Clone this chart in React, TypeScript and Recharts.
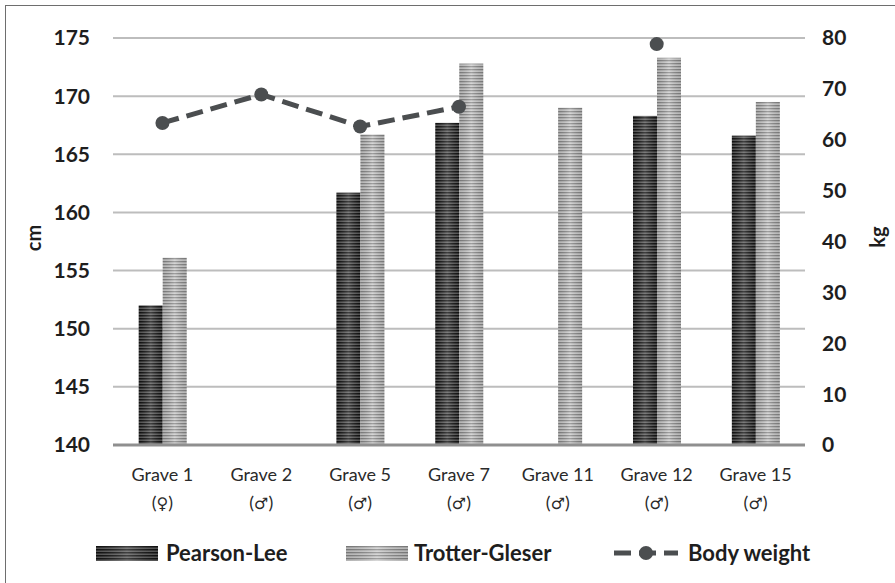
import React from 'react';
import { ComposedChart, Bar, Line, XAxis, YAxis, CartesianGrid, Label } from 'recharts';

const graves = ['Grave 1', 'Grave 2', 'Grave 5', 'Grave 7', 'Grave 11', 'Grave 12', 'Grave 15'];
const sexes = ['♀', '♂', '♂', '♂', '♂', '♂', '♂'];
const pearsonLee: (number | null)[] = [152.0, null, 161.7, 167.7, null, 168.3, 166.6];
const trotterGleser: (number | null)[] = [156.1, null, 166.7, 172.8, 169.0, 173.3, 169.5];
const bodyWeight: (number | null)[] = [63.3, 68.9, 62.6, 66.5, null, 78.8, null];
const cmTicks = [140, 145, 150, 155, 160, 165, 170, 175];
const kgTicks = [0, 10, 20, 30, 40, 50, 60, 70, 80];

const data = graves.map((g, i) => ({
  name: g,
  sex: sexes[i],
  pl: pearsonLee[i],
  tg: trotterGleser[i],
  bw: bodyWeight[i],
}));

const FONT = 'Lato, "Open Sans", sans-serif';
const LINE_COLOR = '#4b4e50';

const Defs = ({ suffix }: { suffix: string }) => (
  <defs>
    <pattern id={`darkStripe${suffix}`} width="6" height="3" patternUnits="userSpaceOnUse">
      <rect width="6" height="3" fill="#5c5c5c" />
      <rect width="6" height="1.5" fill="#111" />
    </pattern>
    <pattern id={`lightStripe${suffix}`} width="6" height="3" patternUnits="userSpaceOnUse">
      <rect width="6" height="3" fill="#cdcdcd" />
      <rect width="6" height="1.3" fill="#878787" />
    </pattern>
    <linearGradient id={`shine${suffix}`} x1="0" y1="0" x2="1" y2="0">
      <stop offset="0" stopColor="#000" stopOpacity="0.12" />
      <stop offset="0.5" stopColor="#fff" stopOpacity="0.2" />
      <stop offset="1" stopColor="#000" stopOpacity="0.12" />
    </linearGradient>
  </defs>
);

const makeShape = (patternId: string) => (props: any) => {
  const { x, y, width, height } = props;
  if (height == null || height <= 0 || width <= 0) return <g />;
  return (
    <g>
      <rect x={x} y={y} width={width} height={height} fill={`url(#${patternId})`} />
      <rect x={x} y={y} width={width} height={height} fill="url(#shineC)" />
    </g>
  );
};

const DarkShape = makeShape('darkStripeC');
const LightShape = makeShape('lightStripeC');

const XTick = (props: any) => {
  const { x, y, payload, index } = props;
  return (
    <g>
      <text x={x} y={y} textAnchor="middle" fontFamily={FONT} fontSize={18} fill="#2a2a2a">
        <tspan x={x} dy={36}>{payload.value}</tspan>
        <tspan x={x} dy={28}>(<tspan fontFamily='"DejaVu Sans", sans-serif' fontSize={16}>{sexes[index]}</tspan>)</tspan>
      </text>
    </g>
  );
};

const legendText: React.CSSProperties = {
  position: 'absolute',
  top: 538,
  fontFamily: FONT,
  fontWeight: 700,
  fontSize: 22,
  lineHeight: '30px',
  color: '#1e1e1e',
  whiteSpace: 'nowrap',
};

const Swatch = ({ left, kind }: { left: number; kind: 'dark' | 'light' }) => (
  <svg style={{ position: 'absolute', left, top: 546 }} width={62} height={15}>
    <Defs suffix={`L${kind}`} />
    <rect x={0} y={0} width={62} height={15} fill={`url(#${kind}StripeL${kind})`} />
    <rect x={0} y={0} width={62} height={15} fill={`url(#shineL${kind})`} />
  </svg>
);

export default function App() {
  return (
    <div style={{ position: 'absolute', left: 0, top: 0, width: 895, height: 583, background: '#fff' }}>
      <div style={{ position: 'absolute', left: 5, top: 5, width: 895, height: 583, borderTop: '1.5px solid #6e6e6e', borderLeft: '1.5px solid #6e6e6e' }} />
      <div style={{ position: 'absolute', left: 0, top: 0 }}>
        <ComposedChart
          width={895}
          height={583}
          data={data}
          margin={{ top: 38, right: 0, bottom: 0, left: 0 }}
          barCategoryGap="26%"
          barGap={0}
        >
          <Defs suffix="C" />
          <CartesianGrid vertical={false} stroke="#bdbdbd" strokeWidth={2} yAxisId="cm" />
          <XAxis
            dataKey="name"
            height={138}
            tickLine={false}
            tickSize={0}
            tickMargin={0}
            axisLine={{ stroke: '#8f8f8f', strokeWidth: 3 }}
            tick={<XTick />}
            interval={0}
          />
          <YAxis
            yAxisId="cm"
            orientation="left"
            width={113}
            domain={[140, 175]}
            ticks={cmTicks}
            axisLine={false}
            tickLine={false}
            tickSize={0}
            tickMargin={23}
            tick={{ fontFamily: FONT, fontWeight: 700, fontSize: 21, fill: '#1e1e1e' }}
          >
            <Label
              content={() => (
                <text x={33} y={238} transform="rotate(-90 33 238)" textAnchor="middle" dominantBaseline="central" fontFamily={FONT} fontWeight={700} fontSize={20} fill="#1e1e1e">cm</text>
              )}
            />
          </YAxis>
          <YAxis
            yAxisId="kg"
            orientation="right"
            width={90}
            domain={[0, 80]}
            ticks={kgTicks}
            axisLine={false}
            tickLine={false}
            tickSize={0}
            tickMargin={17}
            tick={{ fontFamily: FONT, fontWeight: 700, fontSize: 21, fill: '#1e1e1e' }}
          >
            <Label
              content={() => (
                <text x={877} y={237} transform="rotate(-90 877 237)" textAnchor="middle" dominantBaseline="central" fontFamily={FONT} fontWeight={700} fontSize={20} fill="#1e1e1e">kg</text>
              )}
            />
          </YAxis>
          <Bar yAxisId="cm" dataKey="pl" name="Pearson-Lee" shape={<DarkShape />} isAnimationActive={false} />
          <Bar yAxisId="cm" dataKey="tg" name="Trotter-Gleser" shape={<LightShape />} isAnimationActive={false} />
          <Line
            yAxisId="kg"
            dataKey="bw"
            name="Body weight"
            stroke={LINE_COLOR}
            strokeWidth={5}
            strokeDasharray="17 8"
            dot={{ r: 7, fill: LINE_COLOR, stroke: 'none' }}
            activeDot={false}
            connectNulls={false}
            isAnimationActive={false}
          />
        </ComposedChart>
      </div>
      <Swatch left={96} kind="dark" />
      <div style={{ ...legendText, left: 166 }}>Pearson-Lee</div>
      <Swatch left={346} kind="light" />
      <div style={{ ...legendText, left: 414 }}>Trotter-Gleser</div>
      <svg style={{ position: 'absolute', left: 612, top: 541 }} width={68} height={24}>
        <line x1={2} y1={12} x2={66} y2={12} stroke={LINE_COLOR} strokeWidth={5} strokeDasharray="17 8" />
        <circle cx={34} cy={12} r={7} fill={LINE_COLOR} />
      </svg>
      <div style={{ ...legendText, left: 688 }}>Body weight</div>
    </div>
  );
}
